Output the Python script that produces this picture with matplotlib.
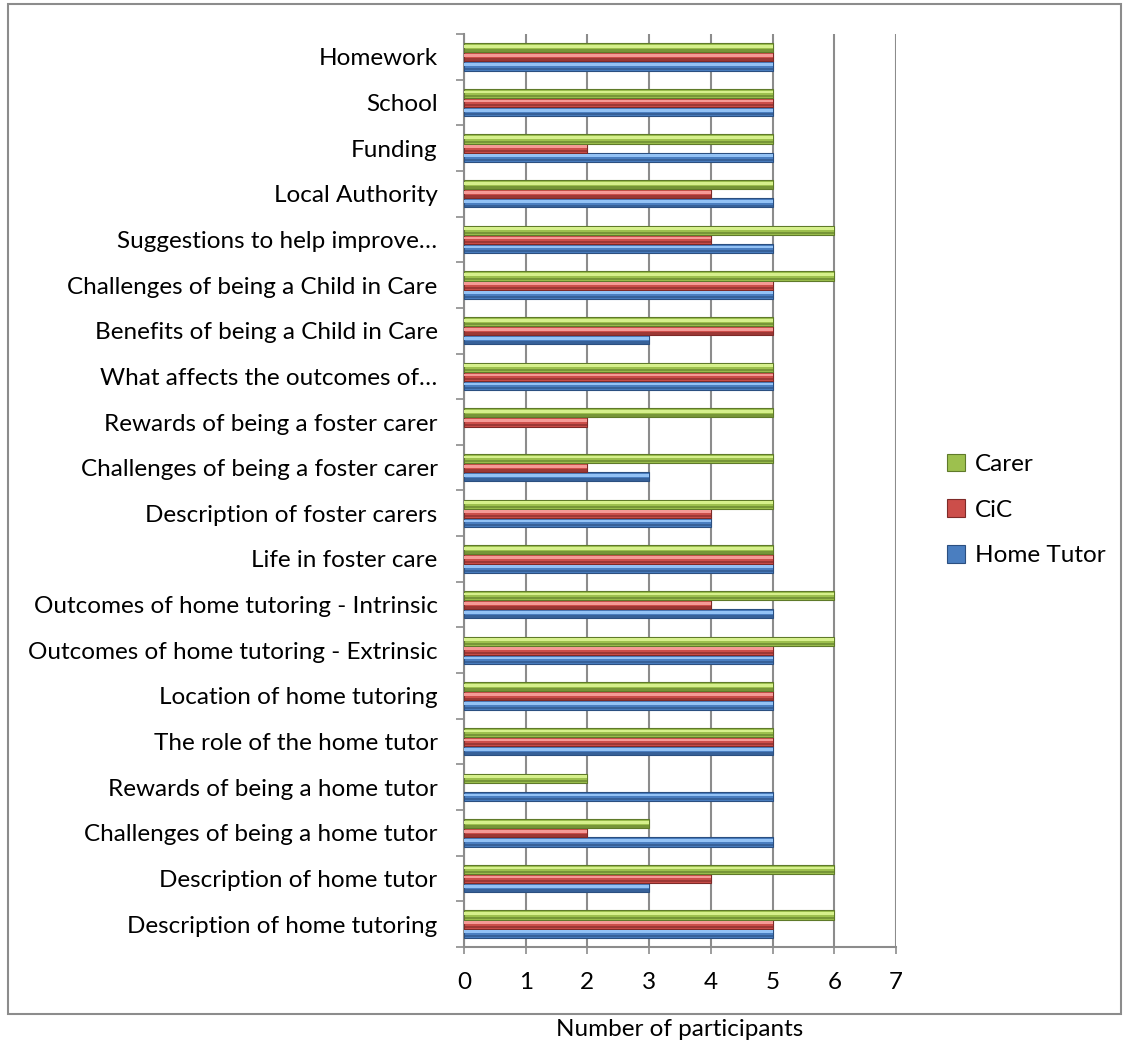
import numpy as np
import matplotlib.pyplot as plt
from matplotlib.patches import Rectangle

plt.rcParams['font.family'] = ['Lato', 'DejaVu Sans']

categories = [
    "Description of home tutoring",
    "Description of home tutor",
    "Challenges of being a home tutor",
    "Rewards of being a home tutor",
    "The role of the home tutor",
    "Location of home tutoring",
    "Outcomes of home tutoring - Extrinsic",
    "Outcomes of home tutoring - Intrinsic",
    "Life in foster care",
    "Description of foster carers",
    "Challenges of being a foster carer",
    "Rewards of being a foster carer",
    "What affects the outcomes of\u2026",
    "Benefits of being a Child in Care",
    "Challenges of being a Child in Care",
    "Suggestions to help improve\u2026",
    "Local Authority",
    "Funding",
    "School",
    "Homework",
]
home_tutor = [5, 3, 5, 5, 5, 5, 5, 5, 5, 4, 3, 0, 5, 3, 5, 5, 5, 5, 5, 5]
cic        = [5, 4, 2, 0, 5, 5, 5, 4, 5, 4, 2, 2, 5, 5, 5, 4, 4, 2, 5, 5]
carer      = [6, 6, 3, 2, 5, 5, 6, 6, 5, 5, 5, 5, 5, 5, 6, 6, 5, 5, 5, 5]

# name, values, body colour, highlight, shade
series = [
    ("Home Tutor", home_tutor, "#4A7EC0", "#93C2F5", "#2B4F80"),
    ("CiC", cic, "#CC4E4A", "#F59A96", "#7E2A28"),
    ("Carer", carer, "#9DC04E", "#D6F08C", "#5F7A2A"),
]

fig = plt.figure(figsize=(11.23, 10.44), dpi=100)
ax = fig.add_axes([464 / 1123, 1 - 947 / 1044, 432 / 1123, 913 / 1044])

# outer chart frame
fig.patches.append(Rectangle((8 / 1123, 1 - 1014 / 1044), 1113 / 1123, 1010 / 1044,
                             transform=fig.transFigure, fill=False,
                             edgecolor="#8C8C8C", linewidth=1.5, zorder=0))

y = np.arange(len(categories))
h = 0.2
for i, (name, vals, mid, light, dark) in enumerate(series):
    pos = y + (i - 1) * h
    edges = [dark if v > 0 else "none" for v in vals]
    ax.barh(pos, vals, height=h, color=mid, edgecolor=edges, linewidth=0.8, zorder=3, label=name)
    ax.barh(pos + h * 0.16, vals, height=h * 0.3, color=light, linewidth=0, zorder=4)
    ax.barh(pos - h * 0.3, vals, height=h * 0.25, color=dark, linewidth=0, alpha=0.6, zorder=4)

ax.set_xlim(0, 7)
ax.set_ylim(-0.5, len(categories) - 0.5)
ax.set_xticks(range(8))
ax.set_yticks(y)
ax.set_yticklabels(categories)
ax.set_yticks(np.arange(-0.5, len(categories), 1), minor=True)

ax.tick_params(axis="y", which="major", length=0, pad=19, labelsize=17.5)
ax.tick_params(axis="y", which="minor", length=6, width=1.2, color="#8C8C8C")
ax.tick_params(axis="x", which="major", length=5, width=1.2, color="#8C8C8C", pad=13, labelsize=17.5)

ax.grid(axis="x", color="#8C8C8C", linewidth=1.5, zorder=0)
ax.set_axisbelow(True)
for s in ["top", "right"]:
    ax.spines[s].set_visible(False)
for s in ["left", "bottom"]:
    ax.spines[s].set_color("#8C8C8C")
    ax.spines[s].set_linewidth(1.5)

handles, labels = ax.get_legend_handles_labels()
fig.legend(handles[::-1], labels[::-1], loc="center left",
           bbox_to_anchor=(925 / 1123, 1 - 510 / 1044), frameon=False,
           fontsize=17.5, handlelength=0.75, handleheight=0.75, labelspacing=1.0,
           handletextpad=0.4)

fig.text(680 / 1123, 1 - 1030 / 1044, "Number of participants", ha="center", va="center", fontsize=17.5)

fig.savefig("out.png", dpi=100)
